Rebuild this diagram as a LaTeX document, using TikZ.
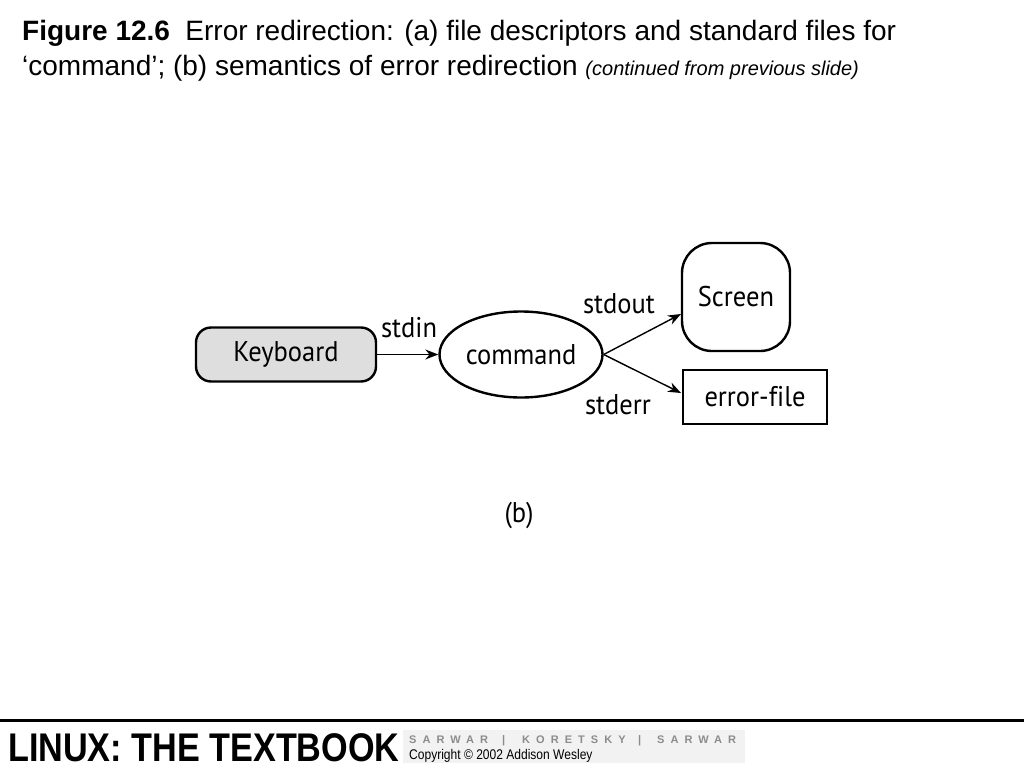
\documentclass[tikz,border=0pt]{standalone}
\usepackage{fontspec}
\setmainfont{Liberation Sans}
\newfontfamily\diagfont[Ligatures=NoCommon,FakeStretch=0.93]{PT Sans}
\newfontfamily\spacedfont[LetterSpace=55]{Liberation Sans Bold}
\usetikzlibrary{shapes.geometric,arrows.meta}
\begin{document}
\begin{tikzpicture}[x=1pt,y=-1pt,
  conn/.style={line width=1.4pt,-{Stealth[length=13pt,width=10pt]}},
  lbl/.style={font=\diagfont\fontsize{28.5}{32}\selectfont,inner sep=0pt},
  boxline/.style={line width=2.4pt,draw=black},
  ttl/.style={anchor=base west,inner sep=0pt,font=\fontsize{28}{32}\selectfont},
  auth/.style={anchor=base west,inner sep=0pt,font=\spacedfont\fontsize{11}{12}\selectfont,text=black!45}]
\useasboundingbox (0,0) rectangle (1024,768);
\fill[white] (0,0) rectangle (1024,768);
% title
\node[ttl] (t1) at (22,41)
  {\textbf{Figure 12.6}\hspace{0.55em}Error redirection: (a) file descriptors and standard files for};
\node[ttl] (t2) at (22,75)
  {`command'; (b) semantics of error redirection {\fontsize{20}{22}\selectfont\itshape (continued from previous slide)}};
% nodes
\node[boxline,fill=black!13,rounded corners=15pt,minimum width=180pt,minimum height=54pt,lbl] (kb) at (286,354.5) {Keyboard};
\node[boxline,ellipse,minimum width=163pt,minimum height=86pt,lbl] (cmd) at (521,354.5) {command};
\node[boxline,rounded corners=30pt,minimum width=108pt,minimum height=108pt,lbl] (scr) at (736,297) {Screen};
\node[boxline,minimum width=144pt,minimum height=54pt,lbl] (ef) at (755,397) {error-f\kern0pt ile};
% connectors
\coordinate (scrin) at (681,314);
\coordinate (efin) at (681,393);
\draw[conn] (kb.east) -- (cmd.west);
\draw[conn] (cmd.east) -- (scrin);
\draw[conn] (cmd.east) -- (efin);
\node[lbl] (lin) at (409,328) {stdin};
\node[lbl] (lout) at (619,304) {stdout};
\node[lbl] (lerr) at (618,405) {stderr};
\node[lbl] (cap) at (519,515) {(b)};
% footer
\draw[line width=3pt] (0,720) -- (1024,720);
\fill[black!5] (403,730) rectangle (745,763);
\node[anchor=base west,inner sep=0pt,font=\bfseries\fontsize{40}{40}\selectfont,xscale=0.855] (brand) at (8,761.5) {LINUX: THE TEXTBOOK};
\node[auth] (a1) at (409,743) {SARWAR};
\node[auth] (s1) at (502,743) {|};
\node[auth] (a2) at (522,743) {KORETSKY};
\node[auth] (s2) at (638,743) {|};
\node[auth] (a3) at (657,743) {SARWAR};
\node[anchor=base west,inner sep=0pt,font=\fontsize{14}{16}\selectfont,xscale=0.86] (copy) at (409,759) {Copyright \textcopyright{} 2002 Addison Wesley};
\end{tikzpicture}
\end{document}
